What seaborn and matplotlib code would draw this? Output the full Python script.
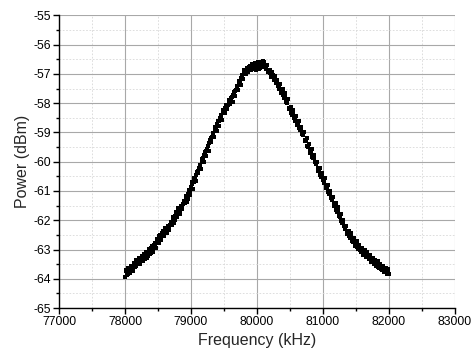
import numpy as np
import pandas as pd
import matplotlib
matplotlib.use("Agg")
import matplotlib.pyplot as plt
import seaborn as sns
from matplotlib.ticker import MultipleLocator

# sweep A: 78000 ... 82000 kHz, step 20 kHz
sweep_a_start_khz = 78000
sweep_a_power_dbm = [
    -63.95, -63.75, -63.85, -63.65, -63.70,
    -63.60, -63.72, -63.50, -63.55, -63.42,
    -63.40, -63.48, -63.30, -63.38, -63.22,
    -63.25, -63.10, -63.30, -63.05, -63.15,
    -62.95, -63.08, -62.85, -62.90, -62.72,
    -62.70, -62.55, -62.68, -62.45, -62.50,
    -62.40, -62.30, -62.45, -62.20, -62.15,
    -62.05, -61.98, -62.10, -61.85, -61.80,
    -61.72, -61.60, -61.75, -61.50, -61.45,
    -61.35, -61.25, -61.38, -61.10, -61.00,
    -60.85, -60.75, -60.70, -60.55, -60.45,
    -60.30, -60.22, -60.10, -60.00, -59.88,
    -59.78, -59.65, -59.58, -59.45, -59.35,
    -59.20, -59.15, -59.02, -58.90, -58.82,
    -58.70, -58.60, -58.52, -58.45, -58.35,
    -58.25, -58.18, -58.10, -58.05, -57.95,
    -57.90, -57.78, -57.72, -57.60, -57.55,
    -57.45, -57.35, -57.25, -57.15, -57.05,
    -56.98, -56.92, -56.85, -56.80, -56.78,
    -56.75, -56.82, -56.70, -56.78, -56.68,
    -56.75, -56.65, -56.80, -56.62, -56.70,
    -56.60, -56.72, -56.78, -56.85, -56.92,
    -56.98, -57.08, -57.05, -57.20, -57.22,
    -57.30, -57.42, -57.40, -57.58, -57.60,
    -57.72, -57.78, -57.95, -57.98, -58.15,
    -58.18, -58.32, -58.35, -58.52, -58.52,
    -58.68, -58.70, -58.86, -58.90, -59.05,
    -59.08, -59.25, -59.28, -59.45, -59.45,
    -59.62, -59.65, -59.84, -59.86, -60.02,
    -60.06, -60.22, -60.26, -60.44, -60.46,
    -60.64, -60.65, -60.84, -60.86, -61.04,
    -61.06, -61.24, -61.25, -61.44, -61.46,
    -61.64, -61.65, -61.84, -61.86, -62.04,
    -62.06, -62.20, -62.24, -62.40, -62.38,
    -62.55, -62.50, -62.70, -62.66, -62.80,
    -62.76, -62.92, -62.88, -63.03, -62.98,
    -63.10, -63.05, -63.20, -63.14, -63.27,
    -63.20, -63.35, -63.30, -63.44, -63.36,
    -63.50, -63.44, -63.58, -63.52, -63.66,
    -63.55, -63.70, -63.62, -63.78, -63.66,
    -63.82,
]

# sweep B: 78010 ... 81990 kHz, step 20 kHz
sweep_b_start_khz = 78010
sweep_b_power_dbm = [
    -63.70, -63.88, -63.62, -63.80, -63.55,
    -63.65, -63.45, -63.60, -63.35, -63.50,
    -63.30, -63.45, -63.22, -63.40, -63.15,
    -63.32, -63.08, -63.22, -62.98, -63.12,
    -62.88, -63.05, -62.78, -62.95, -62.65,
    -62.78, -62.50, -62.62, -62.38, -62.55,
    -62.25, -62.45, -62.18, -62.32, -62.05,
    -62.15, -61.90, -62.00, -61.72, -61.90,
    -61.58, -61.78, -61.52, -61.62, -61.35,
    -61.42, -61.18, -61.28, -60.98, -61.12,
    -60.70, -60.92, -60.55, -60.65, -60.35,
    -60.40, -60.12, -60.25, -59.90, -60.02,
    -59.68, -59.82, -59.48, -59.62, -59.25,
    -59.32, -59.05, -59.15, -58.80, -58.95,
    -58.62, -58.78, -58.42, -58.58, -58.25,
    -58.32, -58.05, -58.20, -57.88, -58.02,
    -57.82, -57.95, -57.62, -57.75, -57.42,
    -57.55, -57.25, -57.38, -57.05, -57.18,
    -56.88, -57.02, -56.80, -56.92, -56.72,
    -56.85, -56.65, -56.80, -56.62, -56.85,
    -56.60, -56.82, -56.58, -56.75, -56.55,
    -56.68, -56.82, -56.70, -56.95, -56.88,
    -57.10, -56.95, -57.20, -57.08, -57.32,
    -57.22, -57.50, -57.35, -57.65, -57.52,
    -57.82, -57.65, -57.95, -57.85, -58.20,
    -58.12, -58.40, -58.25, -58.60, -58.45,
    -58.75, -58.60, -58.92, -58.80, -59.10,
    -59.00, -59.30, -59.18, -59.50, -59.38,
    -59.70, -59.55, -59.88, -59.78, -60.08,
    -60.00, -60.30, -60.20, -60.52, -60.40,
    -60.72, -60.55, -60.90, -60.78, -61.10,
    -61.00, -61.30, -61.20, -61.52, -61.40,
    -61.72, -61.55, -61.90, -61.80, -62.10,
    -62.00, -62.30, -62.18, -62.48, -62.35,
    -62.62, -62.45, -62.75, -62.62, -62.88,
    -62.72, -62.98, -62.85, -63.10, -62.95,
    -63.18, -63.02, -63.25, -63.10, -63.32,
    -63.18, -63.42, -63.28, -63.50, -63.35,
    -63.55, -63.40, -63.62, -63.48, -63.70,
    -63.55, -63.78, -63.62, -63.85, -63.72,
]
step_khz = 20

freq_a = [sweep_a_start_khz + i * step_khz for i in range(len(sweep_a_power_dbm))]
freq_b = [sweep_b_start_khz + i * step_khz for i in range(len(sweep_b_power_dbm))]

df = pd.DataFrame({
    "Frequency (kHz)": freq_a + freq_b,
    "Power (dBm)": sweep_a_power_dbm + sweep_b_power_dbm,
})

sns.set_style("ticks")
plt.rcParams["font.family"] = ["Liberation Sans", "DejaVu Sans"]

fig = plt.figure(figsize=(4.72, 3.57), dpi=100)
ax = fig.add_axes([0.125, 0.137, 0.839, 0.820])

sns.scatterplot(data=df, x="Frequency (kHz)", y="Power (dBm)", ax=ax,
                marker="s", s=10, color="black", linewidth=0, zorder=3)

ax.set_xlim(77000, 83000)
ax.set_ylim(-65, -55)
ax.xaxis.set_major_locator(MultipleLocator(1000))
ax.xaxis.set_minor_locator(MultipleLocator(500))
ax.yaxis.set_major_locator(MultipleLocator(1))
ax.yaxis.set_minor_locator(MultipleLocator(0.5))
ax.set_xticks([77000, 78000, 79000, 80000, 81000, 82000, 83000])
ax.set_yticks(list(range(-65, -54)))
ax.set_yticklabels([str(v) for v in range(-65, -54)])

ax.grid(which="major", color="#a8a8a8", linewidth=0.8, linestyle="-", zorder=0)
ax.grid(which="minor", color="#d8d8d8", linewidth=0.6, linestyle=(0, (2, 2)), zorder=0)
ax.set_axisbelow(True)

for side in ("top", "right"):
    ax.spines[side].set_visible(False)
for side in ("left", "bottom"):
    ax.spines[side].set_color("black")
    ax.spines[side].set_linewidth(1.0)

ax.tick_params(which="major", direction="out", length=4, width=1, color="black",
               labelsize=8.8, labelcolor="black", pad=2)
ax.tick_params(which="minor", direction="out", length=2.5, width=1, color="black")

ax.set_xlabel("Frequency (kHz)", fontsize=11.5, labelpad=3)
ax.set_ylabel("Power (dBm)", fontsize=11.5, labelpad=2)

fig.savefig("out.png", dpi=100)
